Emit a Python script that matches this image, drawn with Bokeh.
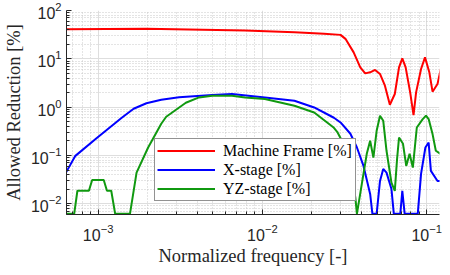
from bokeh.plotting import figure
from bokeh.models import Range1d, FixedTicker, Legend, LegendItem
from bokeh.embed import file_html
from bokeh.resources import INLINE

# ---- data ----
frame_f = [6.43e-4, 1.968e-3, 7.85e-3, 0.01567, 0.02373, 0.0299, 0.03203, 0.03594,
           0.03943, 0.04225, 0.04528, 0.04852, 0.05199, 0.05571, 0.0597, 0.06397,
           0.06788, 0.07107, 0.07448, 0.07936, 0.08318, 0.08622, 0.09243, 0.09768,
           0.1038, 0.1086, 0.1164, 0.1219]
frame_v = [40.9, 41.7, 38.5, 35.5, 32.9, 31.3, 25.9, 13.6,
           6.66, 5.0, 5.25, 5.88, 4.86, 2.78, 1.12, 1.87,
           6.66, 10.2, 6.66, 2.02, 0.686, 2.02, 6.17, 10.7,
           5.25, 2.09, 3.01, 6.17]

xstage_f = [6.37e-4, 7.27e-4, 9.86e-4, 1.393e-3, 1.645e-3, 1.968e-3, 2.423e-3, 3.11e-3,
            4.95e-3, 6.53e-3, 0.01035, 0.01567, 0.02067, 0.02725, 0.0299, 0.03433,
            0.03762, 0.04125, 0.04528, 0.04674, 0.0496, 0.05199, 0.05441, 0.05696,
            0.06103, 0.0631, 0.06911, 0.07107, 0.07346, 0.08826, 0.09243, 0.09822,
            0.1028, 0.1061, 0.1164, 0.1214]
xstage_v = [0.0442, 0.0981, 0.232, 0.603, 0.927, 1.205, 1.42, 1.60,
            1.78, 1.87, 1.59, 1.36, 0.986, 0.603, 0.482, 0.281,
            0.146, 0.0608, 0.016, 0.0062, 0.0062, 0.0297, 0.0527, 0.0442,
            0.0203, 0.0062, 0.0062, 0.0185, 0.0062, 0.0062, 0.0415, 0.146,
            0.185, 0.0479, 0.0297, 0.0297]

yzstage_f = [6.37e-4, 7.15e-4, 7.48e-4, 8.79e-4, 9.2e-4, 1.082e-3, 1.132e-3, 1.202e-3,
             1.27e-3, 1.563e-3, 1.714e-3, 2.016e-3, 2.423e-3, 2.597e-3, 3.42e-3, 4.115e-3,
             4.95e-3, 6.53e-3, 7.85e-3, 0.01035, 0.01567, 0.02067, 0.02725, 0.02853,
             0.03203, 0.03433, 0.0368, 0.03762, 0.0403, 0.04319, 0.04528, 0.04739,
             0.0496, 0.05199, 0.05441, 0.05696, 0.06103, 0.06397, 0.06603, 0.06788,
             0.07176, 0.0751, 0.0787, 0.08238, 0.08709, 0.09462, 0.09904, 0.1028,
             0.1086, 0.1137, 0.1214]
yzstage_v = [0.0062, 0.0062, 0.0186, 0.0186, 0.031, 0.031, 0.0186, 0.0186,
             0.0062, 0.0062, 0.0442, 0.146, 0.453, 0.632, 1.23, 1.59,
             1.72, 1.72, 1.59, 1.47, 1.07, 0.776, 0.374, 0.309,
             0.146, 0.0561, 0.0134, 0.0062, 0.0258, 0.108, 0.201, 0.0904,
             0.324, 0.664, 0.522, 0.125, 0.0274, 0.0185, 0.0838, 0.235,
             0.174, 0.0608, 0.108, 0.0561, 0.379, 0.566, 0.664, 0.566,
             0.277, 0.125, 0.108]

series_labels = ["Machine Frame [%]", "X-stage [%]", "YZ-stage [%]"]
series_colors = ["#ff0000", "#0000ff", "#109910"]

x_ticks = [1e-3, 1e-2, 1e-1]
y_ticks = [1e-2, 1e-1, 1e0, 1e1, 1e2]
x_limits = (6.42e-4, 0.1197)
y_limits = (0.006, 100)

x_label = "Normalized frequency [-]"
y_label = "Allowed Reduction [%]"

# ---- figure ----
p = figure(width=442, height=275, x_axis_type="log", y_axis_type="log",
           x_range=Range1d(*x_limits), y_range=Range1d(*y_limits),
           output_backend="svg", toolbar_location=None,
           min_border_left=61, min_border_right=3, min_border_top=10, min_border_bottom=61)
p.outline_line_color = None
p.background_fill_color = "white"
p.border_fill_color = "white"

x_minor = [m * 10.0 ** e for e in range(-4, 0) for m in range(2, 10)]
y_minor = [m * 10.0 ** e for e in range(-3, 2) for m in range(2, 10)]
p.xaxis.ticker = FixedTicker(ticks=x_ticks, minor_ticks=x_minor)
p.yaxis.ticker = FixedTicker(ticks=y_ticks, minor_ticks=y_minor)

for ax in (p.xaxis[0], p.yaxis[0]):
    ax.axis_line_color = "#262626"
    ax.major_tick_line_color = "#262626"
    ax.minor_tick_line_color = "#262626"
    ax.major_tick_in = 5
    ax.major_tick_out = 0
    ax.minor_tick_in = 3
    ax.minor_tick_out = 0
    ax.major_label_text_font = "Liberation Sans"
    ax.major_label_text_font_size = "16px"
    ax.major_label_text_color = "#262626"
    ax.axis_label_text_font = "Liberation Serif"
    ax.axis_label_text_font_style = "normal"
    ax.axis_label_text_font_size = "18.5px"
    ax.axis_label_text_color = "#262626"

p.xaxis.axis_label = x_label
p.yaxis.axis_label = y_label
p.xaxis.major_label_standoff = 9
p.yaxis.major_label_standoff = 5
p.xaxis.axis_label_standoff = 2
p.yaxis.axis_label_standoff = 4

for g in (p.xgrid[0], p.ygrid[0]):
    g.grid_line_color = "#dedede"
    g.grid_line_width = 1
    g.minor_grid_line_color = "#c8c8c8"
    g.minor_grid_line_dash = "1 2"
    g.minor_grid_line_width = 1

r1 = p.line(frame_f, frame_v, line_color=series_colors[0], line_width=2)
r2 = p.line(xstage_f, xstage_v, line_color=series_colors[1], line_width=2)
r3 = p.line(yzstage_f, yzstage_v, line_color=series_colors[2], line_width=2)

legend = Legend(items=[LegendItem(label=series_labels[0], renderers=[r1]),
                       LegendItem(label=series_labels[1], renderers=[r2]),
                       LegendItem(label=series_labels[2], renderers=[r3])],
                location=(88, 13))
legend.label_text_font = "Liberation Serif"
legend.label_text_font_size = "16px"
legend.label_text_color = "#000000"
legend.glyph_width = 58
legend.glyph_height = 19
legend.label_height = 19
legend.label_width = 130
legend.label_standoff = 8
legend.padding = 2
legend.spacing = 0
legend.margin = 0
legend.border_line_color = "#262626"
legend.border_line_width = 1
legend.background_fill_color = "white"
legend.background_fill_alpha = 1.0
p.add_layout(legend, "center")

open("out.html", "w").write(file_html(p, INLINE))
